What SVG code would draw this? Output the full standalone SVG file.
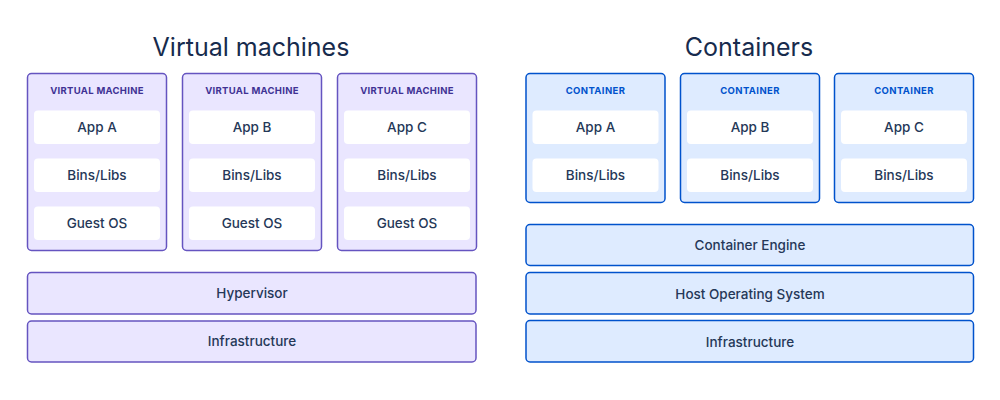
<svg xmlns="http://www.w3.org/2000/svg" width="1000" height="400" viewBox="0 0 1000 400">
<style>
.title{font-family:"Inter","Liberation Sans",sans-serif;font-size:25px;fill:#172B4D;text-anchor:middle}
.vm{fill:#EAE6FF;stroke:#6554C0;stroke-width:1.5}
.ct{fill:#DEEBFF;stroke:#0052CC;stroke-width:1.5}
.in{fill:#FFFFFF;stroke:none}
.lbl{font-family:"Inter","Liberation Sans",sans-serif;font-size:13.5px;font-weight:500;fill:#253858;text-anchor:middle}
.hvm{font-family:"Inter","Liberation Sans",sans-serif;font-size:9.5px;font-weight:bold;fill:#403294;text-anchor:middle;letter-spacing:0.3px}
.hct{font-family:"Inter","Liberation Sans",sans-serif;font-size:9.5px;font-weight:bold;fill:#0052CC;text-anchor:middle;letter-spacing:0.4px}
</style>
<rect width="1000" height="400" fill="#FFFFFF"/>
<text class="title" x="251" y="56">Virtual machines</text>
<text class="title" x="749" y="56">Containers</text>

<g id="vm1">
<rect class="vm" x="27.5" y="73.5" width="139" height="177" rx="4"/>
<text class="hvm" x="97" y="93.5">VIRTUAL MACHINE</text>
<rect class="in" x="34" y="110.5" width="126" height="33.5" rx="4"/>
<text class="lbl" x="97" y="132">App A</text>
<rect class="in" x="34" y="158.5" width="126" height="33.5" rx="4"/>
<text class="lbl" x="97" y="180">Bins/Libs</text>
<rect class="in" x="34" y="206.5" width="126" height="33.5" rx="4"/>
<text class="lbl" x="97" y="228">Guest OS</text>
</g>
<g id="vm2">
<rect class="vm" x="182.5" y="73.5" width="139" height="177" rx="4"/>
<text class="hvm" x="252" y="93.5">VIRTUAL MACHINE</text>
<rect class="in" x="189" y="110.5" width="126" height="33.5" rx="4"/>
<text class="lbl" x="252" y="132">App B</text>
<rect class="in" x="189" y="158.5" width="126" height="33.5" rx="4"/>
<text class="lbl" x="252" y="180">Bins/Libs</text>
<rect class="in" x="189" y="206.5" width="126" height="33.5" rx="4"/>
<text class="lbl" x="252" y="228">Guest OS</text>
</g>
<g id="vm3">
<rect class="vm" x="337.5" y="73.5" width="139" height="177" rx="4"/>
<text class="hvm" x="407" y="93.5">VIRTUAL MACHINE</text>
<rect class="in" x="344" y="110.5" width="126" height="33.5" rx="4"/>
<text class="lbl" x="407" y="132">App C</text>
<rect class="in" x="344" y="158.5" width="126" height="33.5" rx="4"/>
<text class="lbl" x="407" y="180">Bins/Libs</text>
<rect class="in" x="344" y="206.5" width="126" height="33.5" rx="4"/>
<text class="lbl" x="407" y="228">Guest OS</text>
</g>
<g id="hypervisor">
<rect class="vm" x="27.5" y="272.5" width="448.5" height="41.5" rx="4"/>
<text class="lbl" x="252" y="298">Hypervisor</text>
</g>
<g id="vm-infra">
<rect class="vm" x="27.5" y="321" width="448.5" height="41" rx="4"/>
<text class="lbl" x="252" y="346">Infrastructure</text>
</g>

<g id="c1">
<rect class="ct" x="526" y="73.5" width="139" height="129" rx="4"/>
<text class="hct" x="595.5" y="93.5">CONTAINER</text>
<rect class="in" x="532.5" y="110.5" width="126" height="33.5" rx="4"/>
<text class="lbl" x="595.5" y="132">App A</text>
<rect class="in" x="532.5" y="158.5" width="126" height="33.5" rx="4"/>
<text class="lbl" x="595.5" y="180">Bins/Libs</text>
</g>
<g id="c2">
<rect class="ct" x="680.5" y="73.5" width="139" height="129" rx="4"/>
<text class="hct" x="750" y="93.5">CONTAINER</text>
<rect class="in" x="687" y="110.5" width="126" height="33.5" rx="4"/>
<text class="lbl" x="750" y="132">App B</text>
<rect class="in" x="687" y="158.5" width="126" height="33.5" rx="4"/>
<text class="lbl" x="750" y="180">Bins/Libs</text>
</g>
<g id="c3">
<rect class="ct" x="834.5" y="73.5" width="139" height="129" rx="4"/>
<text class="hct" x="904" y="93.5">CONTAINER</text>
<rect class="in" x="841" y="110.5" width="126" height="33.5" rx="4"/>
<text class="lbl" x="904" y="132">App C</text>
<rect class="in" x="841" y="158.5" width="126" height="33.5" rx="4"/>
<text class="lbl" x="904" y="180">Bins/Libs</text>
</g>
<g id="engine">
<rect class="ct" x="526" y="224.5" width="447.5" height="41" rx="4"/>
<text class="lbl" x="750" y="250">Container Engine</text>
</g>
<g id="hostos">
<rect class="ct" x="526" y="272.5" width="447.5" height="41.5" rx="4"/>
<text class="lbl" x="750" y="299">Host Operating System</text>
</g>
<g id="c-infra">
<rect class="ct" x="526" y="320.5" width="447.5" height="41.5" rx="4"/>
<text class="lbl" x="750" y="347">Infrastructure</text>
</g>
<g id="connectors"/>
</svg>
